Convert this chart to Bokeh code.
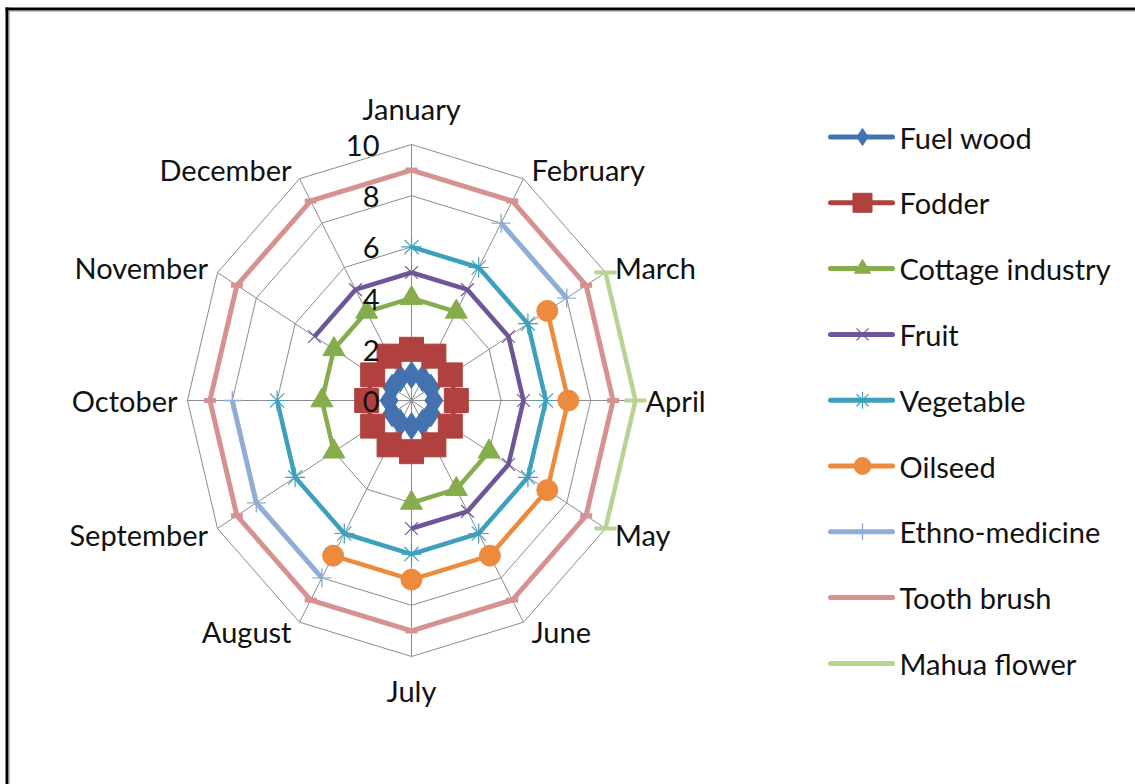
import math
from bokeh.plotting import figure
from bokeh.models import Range1d
from bokeh.core.properties import value
from bokeh.embed import file_html
from bokeh.resources import INLINE

# ---------------- data ----------------
months = ["January", "February", "March", "April", "May", "June",
          "July", "August", "September", "October", "November", "December"]
tick_values = [0, 2, 4, 6, 8, 10]
tick_labels = ["0", "2", "4", "6", "8", "10"]
series_names = ["Fuel wood", "Fodder", "Cottage industry", "Fruit", "Vegetable",
                "Oilseed", "Ethno-medicine", "Tooth brush", "Mahua flower"]
fuel_wood = [1, 1, 1, 1, 1, 1, 1, 1, 1, 1, 1, 1]
fodder = [2, 2, 2, 2, 2, 2, 2, 2, 2, 2, 2, 2]
cottage_industry = [4, 4, None, None, 4, 4, 4, None, 4, 4, 4, 4]
fruit = [5, 5, 5, 5, 5, 5, 5, None, None, None, 5, 5]
vegetable = [6, 6, 6, 6, 6, 6, 6, 6, 6, 6, None, None]
oilseed = [None, None, 7, 7, 7, 7, 7, 7, None, None, None, None]
ethno_medicine = [None, 8, 8, None, None, None, None, 8, 8, 8, None, None]
tooth_brush = [9, 9, 9, 9, 9, 9, 9, 9, 9, 9, 9, 9]
mahua_flower = [None, None, 10, 10, 10, None, None, None, None, None, None, None]
series_values = [fuel_wood, fodder, cottage_industry, fruit, vegetable,
                 oilseed, ethno_medicine, tooth_brush, mahua_flower]

# ---------------- styles ----------------
colors = ["#4472b0", "#b0413e", "#86ad4c", "#6e5598", "#3ea0bc",
          "#ec8a3e", "#8fadd6", "#d69291", "#b8d392"]
markers = ["diamond", "square", "triangle", "x", "asterisk",
           "circle", "cross", "dash", "dash"]
msizes = [27, 24, 22, 18, 20, 21, 19, 12, 22]
mline = [1, 1, 1, 1.2, 1.2, 1, 1.4, 5, 4]
filled = [True, True, True, False, False, True, False, False, False]
lwidths = [4.5, 4.5, 4.5, 4.5, 4.5, 4.5, 5, 5, 4.5]
leg_msizes = [17, 19, 16, 17, 17, 17, 17, 0, 0]

FONT = "Lato"
FSIZE = "29px"
TXT = "#111111"
GRID = "#8c8c8c"

W, H = 1135, 784
SX, SY = 22.4, 25.6           # px per value unit (x, y)
CX, CY = 411, 400             # centre in page pixels


def fx(px):
    return (px - CX) / SX


def fy(py):
    return (CY - py) / SY


p = figure(width=W, height=H, output_backend="svg", toolbar_location=None,
           x_range=Range1d(fx(0), fx(W)),
           y_range=Range1d(fy(H), fy(0)),
           min_border=0)
p.xaxis.visible = False
p.yaxis.visible = False
p.grid.visible = False
p.outline_line_color = None
p.background_fill_color = "white"
p.border_fill_color = "white"

n = len(months)
thetas = [2 * math.pi * i / n for i in range(n)]
rmax = tick_values[-1]


def polar(v, t):
    if v is None:
        return float("nan"), float("nan")
    return v * math.sin(t), v * math.cos(t)


# grid rings
for tv in tick_values[1:]:
    xs = [tv * math.sin(t) for t in thetas] + [tv * math.sin(thetas[0])]
    ys = [tv * math.cos(t) for t in thetas] + [tv * math.cos(thetas[0])]
    p.line(xs, ys, line_color=GRID, line_width=1)
# spokes
p.segment(x0=[0] * n, y0=[0] * n,
          x1=[rmax * math.sin(t) for t in thetas],
          y1=[rmax * math.cos(t) for t in thetas],
          line_color=GRID, line_width=1)

# month labels
for i, t in enumerate(thetas):
    x, y = rmax * math.sin(t), rmax * math.cos(t)
    s, c = math.sin(t), math.cos(t)
    if abs(s) < 1e-6:
        align, ox, oy = "center", 0, (-36 if c > 0 else 34)
    else:
        align = "left" if s > 0 else "right"
        ox = (6 + 4 * abs(s)) * (1 if s > 0 else -1)
        oy = -11 * c
    p.text(x=[x], y=[y], text=[months[i]], x_offset=ox, y_offset=oy,
           text_align=align, text_baseline="middle",
           text_font=value(FONT), text_font_size=FSIZE, text_color=TXT)

# series
for k, vals in enumerate(series_values):
    pts = [polar(v, t) for v, t in zip(vals, thetas)]
    xs = [q[0] for q in pts] + [pts[0][0]]
    ys = [q[1] for q in pts] + [pts[0][1]]
    p.line(xs, ys, line_color=colors[k], line_width=lwidths[k])
    mx = [q[0] for q in pts if not math.isnan(q[0])]
    my = [q[1] for q in pts if not math.isnan(q[1])]
    p.scatter(mx, my, marker=markers[k], size=msizes[k],
              fill_color=colors[k] if filled[k] else None,
              line_color=colors[k], line_width=mline[k])

# tick labels (drawn above the series, as in the reference)
p.text(x=[0] * len(tick_values), y=tick_values, text=tick_labels,
       x_offset=-32, y_offset=1, text_align="right", text_baseline="middle",
       text_font=value(FONT), text_font_size=FSIZE, text_color=TXT)

# legend (drawn manually)
for k, name in enumerate(series_names):
    yy = fy(136.5 + 65.8 * k)
    p.line([fx(830), fx(892)], [yy, yy], line_color=colors[k], line_width=5,
           line_cap="round")
    if leg_msizes[k] > 0:
        p.scatter([fx(862)], [yy], marker=markers[k], size=leg_msizes[k],
                  fill_color=colors[k] if filled[k] else None,
                  line_color=colors[k], line_width=mline[k])
    p.text(x=[fx(899)], y=[yy], text=[name], text_align="left",
           text_baseline="middle", text_font=value(FONT),
           text_font_size=FSIZE, text_color=TXT)

# chart-area border (top and left edges visible)
p.segment(x0=[fx(5), fx(6.5)], y0=[fy(8.5), fy(7)],
          x1=[fx(W), fx(6.5)], y1=[fy(8.5), fy(H)],
          line_color="black", line_width=3)
p.segment(x0=[fx(8), fx(8.5)], y0=[fy(10.5), fy(10)],
          x1=[fx(W), fx(8.5)], y1=[fy(10.5), fy(H)],
          line_color="#8a8a8a", line_width=1)

open("out.html", "w").write(file_html(p, INLINE))
